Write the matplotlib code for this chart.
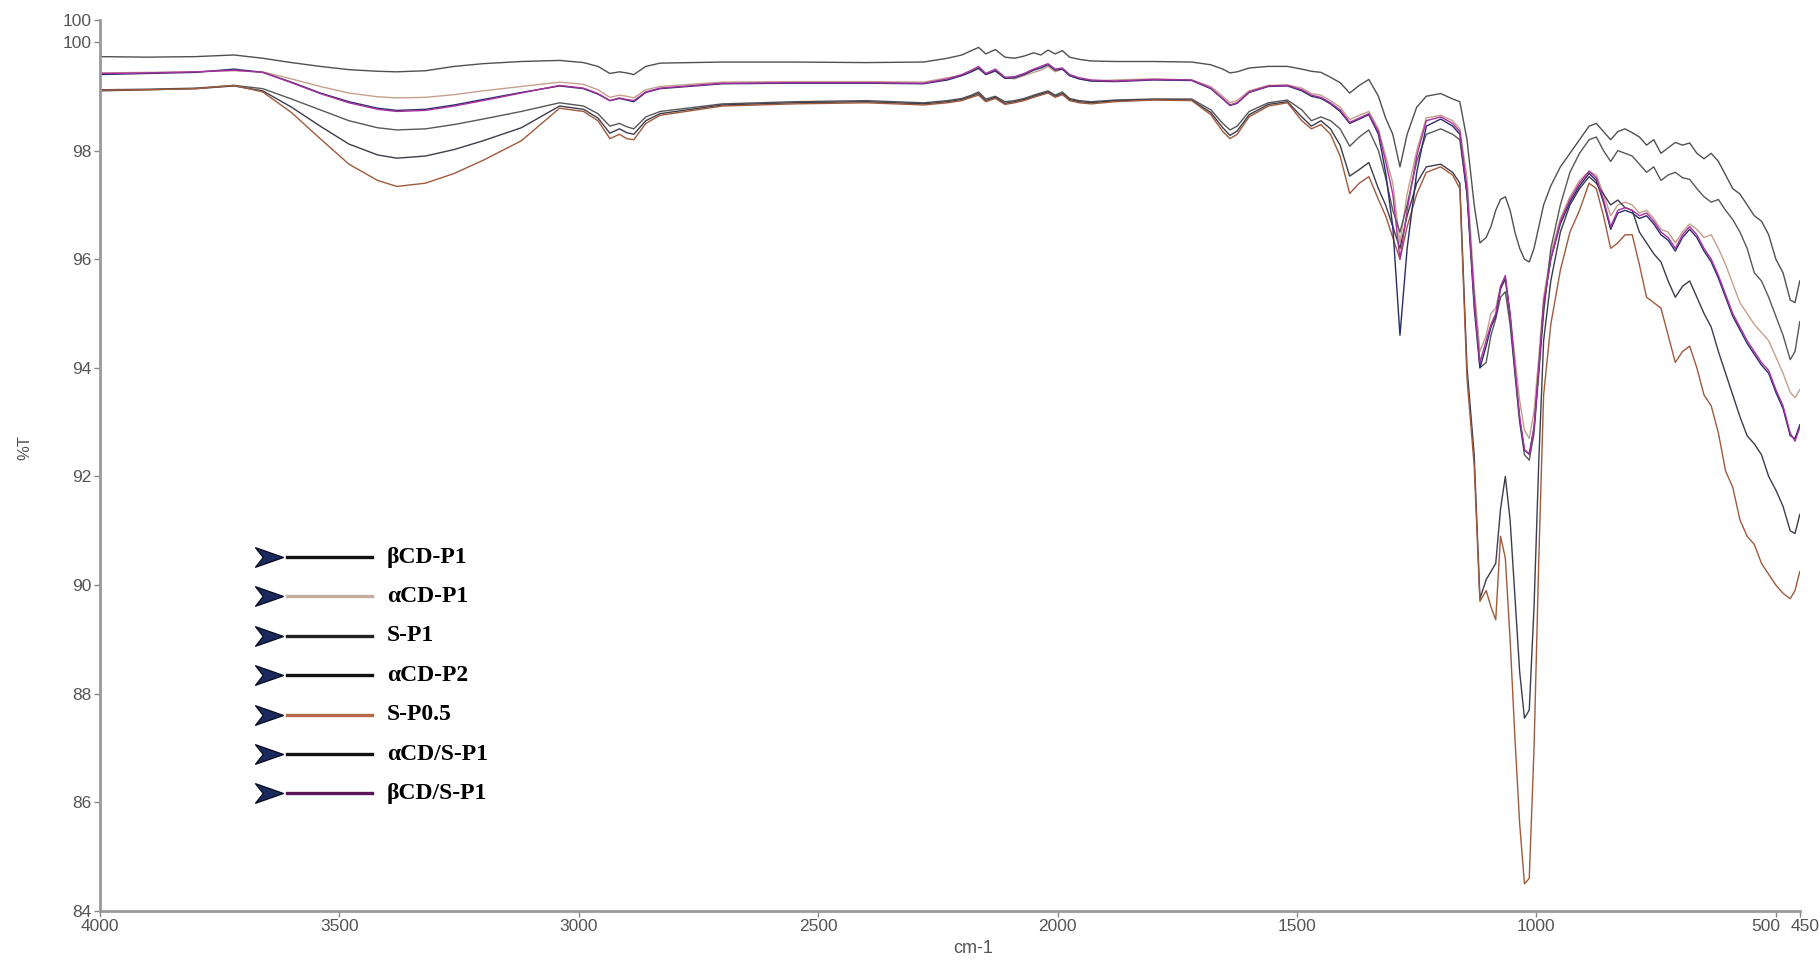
import matplotlib.pyplot as plt
from matplotlib.lines import Line2D
from matplotlib.path import Path
from matplotlib.transforms import ScaledTranslation

# FTIR spectra, %T versus wavenumber (cm-1)
wavenumber = [4000, 3900, 3800, 3720, 3660, 3600, 3540, 3480, 3420, 3380, 3320, 3260, 3200, 3120,
              3040, 2990, 2960, 2935, 2915, 2900, 2885, 2860, 2830,
              2700, 2550, 2400, 2280, 2230, 2200, 2180, 2165, 2150, 2130, 2110, 2090, 2070, 2050, 2035,
              2020, 2005, 1990, 1975, 1955, 1930,
              1880, 1800, 1720, 1680, 1655, 1640, 1625, 1600, 1560, 1520, 1490, 1470, 1450, 1430,
              1410, 1390, 1370, 1350, 1330, 1315, 1300, 1285, 1270, 1250, 1230, 1200, 1175,
              1160, 1145, 1130, 1118, 1105, 1095, 1085, 1075, 1065, 1055, 1045, 1035, 1025, 1015, 1005,
              995, 985,
              970, 950, 930, 910, 890, 875, 860, 845, 830, 815, 800,
              785, 770, 755, 740, 725, 710, 695, 680, 665, 650, 635, 620, 605, 590, 575, 560, 545,
              530, 515, 500, 485, 470, 460, 450]

bcd_p1 = [99.73, 99.72, 99.73, 99.76, 99.70, 99.62, 99.55, 99.49, 99.46, 99.45, 99.47, 99.55, 99.60, 99.64,
          99.66, 99.62, 99.55, 99.42, 99.45, 99.43, 99.40, 99.55, 99.61,
          99.63, 99.63, 99.62, 99.63, 99.70, 99.76, 99.84, 99.90, 99.78, 99.86, 99.72, 99.70, 99.74, 99.80,
          99.76, 99.85, 99.78, 99.84, 99.72, 99.68, 99.65,
          99.64, 99.64, 99.63, 99.58, 99.50, 99.43, 99.45, 99.52, 99.55, 99.55, 99.50, 99.46, 99.44, 99.35,
          99.25, 99.06, 99.20, 99.31, 99.00, 98.60, 98.30, 97.70, 98.30, 98.80, 99.00, 99.05, 98.95,
          98.90, 98.20, 97.00, 96.30, 96.40, 96.60, 96.90, 97.10, 97.15, 96.90, 96.50, 96.20, 96.00, 95.95,
          96.20, 96.60, 97.00,
          97.35, 97.70, 97.95, 98.20, 98.45, 98.50, 98.35, 98.20, 98.35, 98.40, 98.33,
          98.25, 98.10, 98.20, 97.95, 98.05, 98.15, 98.10, 98.14, 97.95, 97.85, 97.95, 97.80, 97.55, 97.30,
          97.20, 97.00, 96.80, 96.70, 96.45, 96.00, 95.75, 95.25, 95.20, 95.60]

acd_p1 = [99.43, 99.44, 99.45, 99.47, 99.45, 99.32, 99.18, 99.06, 98.99, 98.97, 98.98, 99.03, 99.10, 99.18,
          99.26, 99.22, 99.12, 98.98, 99.02, 99.00, 98.97, 99.12, 99.18,
          99.26, 99.27, 99.27, 99.26, 99.34, 99.38, 99.46, 99.50, 99.40, 99.46, 99.34, 99.32, 99.38, 99.44,
          99.48, 99.55, 99.45, 99.50, 99.38, 99.32, 99.28,
          99.30, 99.32, 99.30, 99.18, 99.00, 98.88, 98.92, 99.10, 99.20, 99.21, 99.15, 99.05, 99.02, 98.92,
          98.80, 98.57, 98.65, 98.72, 98.40, 97.90, 97.40, 96.30, 97.20, 98.00, 98.60, 98.65, 98.55,
          98.40, 97.50, 95.50, 94.30, 94.60, 95.00, 95.10, 95.50, 95.60, 95.00, 94.20, 93.40, 92.85, 92.70,
          93.20, 94.20, 95.30,
          96.10, 96.75, 97.15, 97.45, 97.62, 97.55, 97.20, 96.80, 97.00, 97.05, 97.00,
          96.85, 96.90, 96.75, 96.55, 96.50, 96.30, 96.50, 96.65, 96.55, 96.40, 96.45, 96.20, 95.90, 95.55,
          95.20, 95.00, 94.80, 94.65, 94.50, 94.20, 93.90, 93.55, 93.45, 93.60]

s_p1 = [99.12, 99.13, 99.15, 99.20, 99.14, 98.95, 98.75, 98.55, 98.42, 98.38, 98.40, 98.48, 98.58, 98.72,
        98.88, 98.82, 98.68, 98.45, 98.50, 98.44, 98.40, 98.62, 98.72,
        98.86, 98.90, 98.92, 98.88, 98.92, 98.96, 99.02, 99.08, 98.95, 99.00, 98.90, 98.92, 98.96, 99.02,
        99.06, 99.10, 99.02, 99.08, 98.96, 98.92, 98.90,
        98.93, 98.95, 98.95, 98.75, 98.50, 98.38, 98.45, 98.72, 98.88, 98.93, 98.75, 98.55, 98.62, 98.55,
        98.40, 98.08, 98.25, 98.38, 98.00, 97.50, 96.90, 96.50, 97.00, 97.80, 98.30, 98.40, 98.30,
        98.20, 97.20, 95.30, 94.00, 94.10, 94.60, 94.90, 95.30, 95.40, 94.80, 93.90, 93.00, 92.40, 92.30,
        92.80, 93.90, 95.00,
        96.20, 97.00, 97.60, 97.95, 98.20, 98.25, 98.00, 97.80, 98.00, 97.95, 97.90,
        97.75, 97.60, 97.70, 97.45, 97.55, 97.60, 97.50, 97.47, 97.30, 97.15, 97.05, 97.10, 96.90, 96.73,
        96.50, 96.20, 95.75, 95.60, 95.30, 94.95, 94.60, 94.15, 94.30, 94.85]

acd_p2 = [99.10, 99.12, 99.14, 99.19, 99.10, 98.80, 98.45, 98.12, 97.92, 97.86, 97.90, 98.02, 98.18, 98.42,
          98.82, 98.76, 98.60, 98.32, 98.40, 98.33, 98.30, 98.55, 98.68,
          98.84, 98.88, 98.90, 98.86, 98.90, 98.94, 99.00, 99.05, 98.92, 98.98, 98.87, 98.90, 98.94, 99.00,
          99.04, 99.08, 99.00, 99.05, 98.94, 98.90, 98.88,
          98.92, 98.94, 98.93, 98.70, 98.42, 98.28, 98.36, 98.66, 98.85, 98.90, 98.62, 98.45, 98.55, 98.40,
          98.10, 97.53, 97.65, 97.78, 97.30, 97.00, 96.60, 96.20, 96.80, 97.40, 97.70, 97.75, 97.60,
          97.40, 94.00, 92.40, 89.75, 90.10, 90.25, 90.40, 91.40, 92.00, 91.20, 89.80, 88.40, 87.55, 87.70,
          89.60, 92.30, 94.50,
          95.60, 96.50, 97.00, 97.30, 97.52, 97.40, 97.20, 97.00, 97.09, 96.95, 96.90,
          96.50, 96.30, 96.10, 95.95, 95.60, 95.30, 95.50, 95.60, 95.30, 95.00, 94.75, 94.30, 93.90, 93.50,
          93.10, 92.75, 92.60, 92.40, 92.00, 91.75, 91.45, 91.00, 90.95, 91.30]

s_p05 = [99.11, 99.12, 99.14, 99.20, 99.08, 98.70, 98.22, 97.75, 97.45, 97.34, 97.40, 97.58, 97.82, 98.18,
         98.78, 98.72, 98.55, 98.22, 98.30, 98.22, 98.20, 98.50, 98.65,
         98.82, 98.86, 98.88, 98.84, 98.88, 98.92, 98.98, 99.02, 98.90, 98.96, 98.85, 98.88, 98.92, 98.98,
         99.02, 99.06, 98.98, 99.03, 98.92, 98.88, 98.86,
         98.90, 98.93, 98.92, 98.66, 98.35, 98.22, 98.30, 98.62, 98.82, 98.88, 98.55, 98.40, 98.48, 98.30,
         97.90, 97.21, 97.40, 97.52, 97.10, 96.80, 96.40, 96.00, 96.60, 97.20, 97.60, 97.70, 97.55,
         97.30, 93.80, 92.20, 89.70, 89.90, 89.60, 89.36, 90.90, 90.50, 89.00, 87.20, 85.60, 84.50, 84.60,
         87.00, 90.50, 93.50,
         94.80, 95.80, 96.50, 96.90, 97.40, 97.30, 96.80, 96.20, 96.30, 96.45, 96.45,
         95.90, 95.30, 95.20, 95.10, 94.60, 94.10, 94.30, 94.40, 94.00, 93.50, 93.30, 92.80, 92.10, 91.80,
         91.20, 90.90, 90.75, 90.40, 90.20, 90.00, 89.85, 89.75, 89.90, 90.25]

acd_s_p1 = [99.40, 99.42, 99.44, 99.50, 99.44, 99.26, 99.06, 98.90, 98.78, 98.74, 98.76, 98.84, 98.94, 99.07,
            99.19, 99.14, 99.04, 98.92, 98.96, 98.93, 98.90, 99.07, 99.14,
            99.23, 99.24, 99.24, 99.23, 99.30, 99.38, 99.45, 99.52, 99.40, 99.47, 99.33, 99.34, 99.40, 99.48,
            99.52, 99.58, 99.48, 99.50, 99.38, 99.32, 99.28,
            99.27, 99.30, 99.29, 99.14, 98.95, 98.83, 98.87, 99.07, 99.18, 99.19, 99.10, 99.00, 98.96, 98.86,
            98.72, 98.50, 98.58, 98.66, 98.30, 97.60, 96.60, 94.60, 96.20, 97.60, 98.45, 98.58, 98.45,
            98.30, 97.20, 95.10, 94.00, 94.40, 94.75, 94.95, 95.45, 95.65, 94.95, 93.95, 93.05, 92.48, 92.42,
            92.90, 94.00, 95.15,
            96.00, 96.65, 97.05, 97.35, 97.58, 97.45, 97.05, 96.55, 96.85, 96.90, 96.85,
            96.75, 96.80, 96.65, 96.45, 96.35, 96.15, 96.40, 96.55, 96.40, 96.15, 95.95, 95.65, 95.30, 94.95,
            94.70, 94.45, 94.25, 94.05, 93.90, 93.55, 93.25, 92.75, 92.70, 92.95]

bcd_s_p1 = [99.42, 99.43, 99.45, 99.48, 99.44, 99.25, 99.05, 98.88, 98.76, 98.72, 98.74, 98.82, 98.92, 99.06,
            99.20, 99.15, 99.05, 98.92, 98.97, 98.94, 98.92, 99.08, 99.15,
            99.24, 99.25, 99.25, 99.24, 99.32, 99.40, 99.48, 99.55, 99.42, 99.50, 99.35, 99.36, 99.42, 99.50,
            99.55, 99.60, 99.50, 99.52, 99.40, 99.34, 99.30,
            99.28, 99.31, 99.30, 99.15, 98.96, 98.84, 98.88, 99.08, 99.19, 99.20, 99.12, 99.02, 98.98, 98.88,
            98.75, 98.52, 98.60, 98.68, 98.35, 97.80, 97.20, 96.00, 96.90, 97.90, 98.55, 98.62, 98.50,
            98.35, 97.30, 95.20, 94.10, 94.50, 94.80, 95.00, 95.50, 95.70, 95.00, 94.00, 93.10, 92.50, 92.40,
            92.90, 94.00, 95.20,
            96.00, 96.70, 97.10, 97.40, 97.62, 97.50, 97.10, 96.60, 96.90, 96.95, 96.90,
            96.80, 96.85, 96.70, 96.50, 96.40, 96.20, 96.45, 96.60, 96.45, 96.20, 96.00, 95.70, 95.35, 95.00,
            94.75, 94.50, 94.30, 94.10, 93.95, 93.60, 93.30, 92.80, 92.65, 92.90]

labels = ["βCD-P1", "αCD-P1", "S-P1", "αCD-P2", "S-P0.5", "αCD/S-P1", "βCD/S-P1"]
series = [bcd_p1, acd_p1, s_p1, acd_p2, s_p05, acd_s_p1, bcd_s_p1]
line_colors = ["#505050", "#c4a08c", "#585858", "#3c3c4c", "#a05a3c", "#2b2b6b", "#a8309f"]
legend_colors = ["#111111", "#c8ad9d", "#222222", "#111111", "#b36a45", "#111111", "#5a1458"]

yticks = [84, 86, 88, 90, 92, 94, 96, 98, 100, 100.4]
ytick_labels = ["84", "86", "88", "90", "92", "94", "96", "98", "100", "100"]
xticks = [4000, 3500, 3000, 2500, 2000, 1500, 1000, 500, 450]

fig = plt.figure(figsize=(18.2, 9.63), dpi=100)
ax = fig.add_axes([0.0549, 0.054, 0.934, 0.925])

for vals, col in zip(series, line_colors):
    ax.plot(wavenumber, vals, color=col, lw=1.0)

ax.set_xlim(4000, 450)
ax.set_ylim(84, 100.4)
ax.set_xticks(xticks)
ax.set_xticklabels([str(t) for t in xticks])
ax.set_yticks(yticks)
ax.set_yticklabels(ytick_labels)

tick_font = ["Liberation Sans Narrow", "Liberation Sans"]
for lab in ax.get_xticklabels() + ax.get_yticklabels():
    lab.set_family(tick_font)
ax.tick_params(direction="out", length=4, width=1, color="#888888",
               labelcolor="#555555", labelsize=12.5, pad=2)

# the 500 and 450 labels sit side by side, nudge them apart
xlabs = ax.get_xticklabels()
xlabs[-2].set_transform(xlabs[-2].get_transform() + ScaledTranslation(-10 / 100, 0, fig.dpi_scale_trans))
xlabs[-1].set_transform(xlabs[-1].get_transform() + ScaledTranslation(5 / 100, 0, fig.dpi_scale_trans))

for side in ["top", "right"]:
    ax.spines[side].set_visible(False)
for side in ["left", "bottom"]:
    ax.spines[side].set_color("#999999")
    ax.spines[side].set_linewidth(2)

fig.text(973 / 1820, 1 - 948 / 963, "cm-1", ha="center", va="center",
         fontsize=13, color="#555555", family=tick_font)
fig.text(25 / 1820, 1 - 447 / 963, "%T", ha="center", va="center", rotation=90,
         fontsize=12, color="#555555", family=tick_font)

# hand-made legend: arrow head, short line, bold serif label
arrow = Path([(-1, 0.7), (1, 0), (-1, -0.7), (-0.45, 0), (-1, 0.7)],
             [Path.MOVETO, Path.LINETO, Path.LINETO, Path.LINETO, Path.CLOSEPOLY])
for i, (lab, col) in enumerate(zip(labels, legend_colors)):
    y = 1 - (557 + 39.4 * i) / 963
    fig.add_artist(Line2D([269 / 1820], [y], marker=arrow, markersize=20,
                          markerfacecolor="#1b2a5e", markeredgecolor="#0a0f25",
                          transform=fig.transFigure))
    fig.add_artist(Line2D([287 / 1820, 372 / 1820], [y, y], color=col, lw=2.4,
                          transform=fig.transFigure))
    fig.text(387 / 1820, y, lab, ha="left", va="center", fontsize=17,
             fontweight="bold", family=["Liberation Serif", "DejaVu Serif"])

fig.savefig("out.png", dpi=100)
